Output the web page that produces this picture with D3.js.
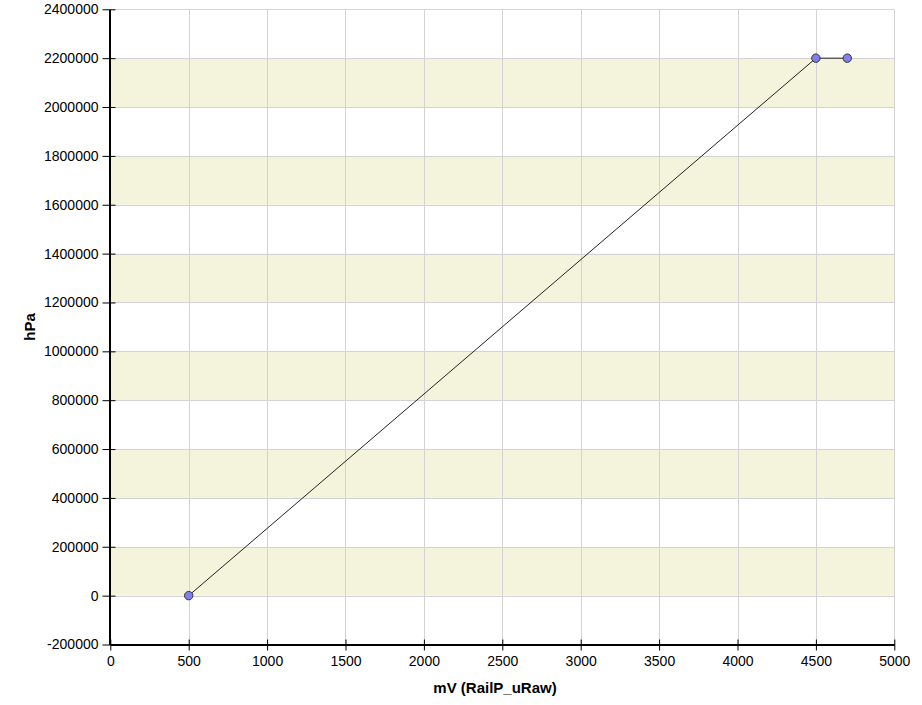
<!DOCTYPE html>
<html><head><meta charset="utf-8">
<script src="https://cdn.jsdelivr.net/npm/d3@7"></script>
<style>body{margin:0;background:#fff}svg{display:block}text{font-family:"Liberation Sans",Arial,sans-serif}</style>
</head><body>
<svg id="c" width="922" height="705"></svg>
<script>
const xValues = [500, 4500, 4700];
const yValues = [0, 2200000, 2200000];
const xTicks = [0, 500, 1000, 1500, 2000, 2500, 3000, 3500, 4000, 4500, 5000];
const yTicks = [-200000, 0, 200000, 400000, 600000, 800000, 1000000, 1200000, 1400000, 1600000, 1800000, 2000000, 2200000, 2400000];
const xTitle = "mV (RailP_uRaw)";
const yTitle = "hPa";

const svg = d3.select("#c");
const L = 110.3, R = 894.3, T = 9.3, B = 644.5;
const x = d3.scaleLinear().domain([0, 5000]).range([L, R]);
const y = d3.scaleLinear().domain([-200000, 2400000]).range([B, T]);
const fmt = d => String(d);

// bands
const bands = [];
for (let i = 0; i < yTicks.length - 1; i++) {
  if (i % 2 === 1) bands.push([yTicks[i], yTicks[i + 1]]);
}
svg.append("g").selectAll("rect").data(bands).join("rect")
  .attr("x", L).attr("width", R - L)
  .attr("y", d => y(d[1])).attr("height", d => y(d[0]) - y(d[1]))
  .attr("fill", "#f4f3dc");

// grid
const grid = svg.append("g").attr("stroke", "#d3d3d3").attr("stroke-width", 1);
grid.selectAll(".gx").data(xTicks.slice(1)).join("line")
  .attr("x1", d => Math.round(x(d)) + 0.5).attr("x2", d => Math.round(x(d)) + 0.5)
  .attr("y1", T).attr("y2", B);
grid.selectAll(".gy").data(yTicks.slice(1)).join("line")
  .attr("y1", d => Math.round(y(d)) + 0.5).attr("y2", d => Math.round(y(d)) + 0.5)
  .attr("x1", L).attr("x2", R);

// axes
const xAxis = svg.append("g").attr("transform", `translate(0,${Math.round(B) - 0.5})`)
  .call(d3.axisBottom(x).tickValues(xTicks).tickFormat(fmt).tickSize(6).tickSizeOuter(0));
xAxis.selectAll(".tick line").attr("y1", -5).attr("y2", 6);
const yAxis = svg.append("g").attr("transform", `translate(${Math.round(L) - 0.5},0)`)
  .call(d3.axisLeft(y).tickValues(yTicks).tickFormat(fmt).tickSize(7).tickSizeOuter(0));
yAxis.selectAll(".tick line").attr("x1", -7).attr("x2", 6);
[xAxis, yAxis].forEach(a => {
  a.select(".domain").attr("stroke", "#000").attr("stroke-width", 2);
  a.selectAll(".tick line").attr("stroke", "#000");
  a.selectAll(".tick text").attr("fill", "#000").style("font-size", "14px");
});
yAxis.selectAll(".tick text").attr("x", -11);
xAxis.selectAll(".tick text").attr("y", 12);

// line
const line = d3.line().x((d, i) => x(xValues[i])).y((d, i) => y(yValues[i]));
svg.append("path").datum(xValues).attr("d", line)
  .attr("fill", "none").attr("stroke", "#222").attr("stroke-width", 1);

// points
svg.append("g").selectAll("circle").data(xValues).join("circle")
  .attr("cx", (d, i) => x(d)).attr("cy", (d, i) => y(yValues[i])).attr("r", 4.2)
  .attr("fill", "#8080f0").attr("stroke", "#333").attr("stroke-width", 1);

// titles
svg.append("text").attr("x", 495).attr("y", 693).attr("text-anchor", "middle")
  .style("font-size", "15px").style("font-weight", "bold").text(xTitle);
svg.append("text").attr("transform", "translate(35,327) rotate(-90)").attr("text-anchor", "middle")
  .style("font-size", "15px").style("font-weight", "bold").text(yTitle);
</script>
</body></html>
